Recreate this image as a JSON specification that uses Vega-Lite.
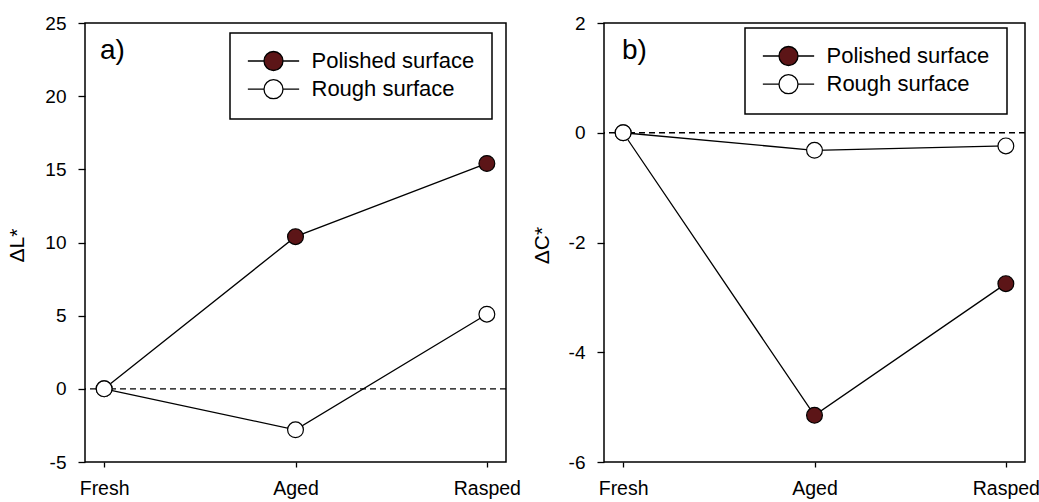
{
  "$schema": "https://vega.github.io/schema/vega-lite/v6.json",
  "background": "white",
  "padding": {"left": 5, "top": 13, "right": 2, "bottom": 0},
  "config": {
    "font": "Liberation Sans",
    "view": {"stroke": "black", "strokeWidth": 1.5},
    "axis": {
      "grid": false,
      "domain": false,
      "tickColor": "black",
      "tickWidth": 1.3,
      "labelColor": "black",
      "labelFont": "Liberation Sans",
      "labelFontSize": 19,
      "titleColor": "black",
      "titleFont": "Liberation Sans",
      "titleFontWeight": "normal"
    },
    "legend": {
      "title": null,
      "orient": "none",
      "labelFont": "Liberation Sans",
      "labelFontSize": 22,
      "labelColor": "black",
      "labelLimit": 400,
      "labelOffset": 27,
      "symbolOffset": 15.5,
      "symbolType": "M-2.7,0H-1M1,0H2.7M-1,0A1,1,0,1,1,1,0A1,1,0,1,1,-1,0Z",
      "symbolSize": 361,
      "symbolStrokeColor": "black",
      "symbolStrokeWidth": 1.3,
      "padding": 17,
      "rowPadding": 2.2,
      "strokeColor": "black",
      "strokeWidth": 1.5,
      "cornerRadius": 0
    }
  },
  "data": {
    "values": [
      {"panel": "a", "surface": "Polished surface", "stage": "Fresh", "value": 0},
      {"panel": "a", "surface": "Polished surface", "stage": "Aged", "value": 10.4},
      {"panel": "a", "surface": "Polished surface", "stage": "Rasped", "value": 15.4},
      {"panel": "a", "surface": "Rough surface", "stage": "Fresh", "value": 0},
      {"panel": "a", "surface": "Rough surface", "stage": "Aged", "value": -2.8},
      {"panel": "a", "surface": "Rough surface", "stage": "Rasped", "value": 5.1},
      {"panel": "b", "surface": "Polished surface", "stage": "Fresh", "value": 0},
      {"panel": "b", "surface": "Polished surface", "stage": "Aged", "value": -5.15},
      {"panel": "b", "surface": "Polished surface", "stage": "Rasped", "value": -2.75},
      {"panel": "b", "surface": "Rough surface", "stage": "Fresh", "value": 0},
      {"panel": "b", "surface": "Rough surface", "stage": "Aged", "value": -0.32},
      {"panel": "b", "surface": "Rough surface", "stage": "Rasped", "value": -0.24}
    ]
  },
  "bounds": "flush",
  "spacing": 98,
  "resolve": {"scale": {"fill": "independent"}, "legend": {"fill": "independent"}},
  "hconcat": [
    {
      "width": 421,
      "height": 439,
      "title": {"text": "a)", "anchor": "start", "frame": "group", "orient": "top", "offset": 0, "dx": 15, "dy": 73, "baseline": "alphabetic", "fontSize": 28, "fontWeight": "normal", "font": "Liberation Sans", "color": "black"},
      "transform": [{"filter": "datum.panel == 'a'"}],
      "layer": [
        {
          "data": {"values": [{"ref": 0}]},
          "mark": {"type": "rule", "color": "black", "strokeWidth": 1.3, "strokeDash": [6, 4]},
          "encoding": {
            "y": {"field": "ref", "type": "quantitative", "scale": {"domain": [-5, 25], "nice": false, "zero": false}, "axis": {"title": "ΔL*", "values": [-5, 0, 5, 10, 15, 20, 25], "labelExpr": "datum.value < 0 ? '-' + abs(datum.value) : '' + datum.value", "tickSize": 7, "labelPadding": 12, "titleFontSize": 21, "titleAngle": -90, "titleX": -62, "titleY": 222, "titleBaseline": "alphabetic", "titleAlign": "center"}}
          }
        },
        {
          "mark": {"type": "line", "color": "black", "strokeWidth": 1.3},
          "encoding": {
            "x": {"field": "stage", "type": "ordinal", "sort": ["Fresh", "Aged", "Rasped"], "scale": {"type": "point", "padding": 0.1}, "axis": {"title": null, "labelAngle": 0, "tickSize": 5, "labelPadding": 12, "labelFontSize": 19.5}},
            "y": {"field": "value", "type": "quantitative", "scale": {"domain": [-5, 25], "nice": false, "zero": false}, "axis": {"title": "ΔL*", "values": [-5, 0, 5, 10, 15, 20, 25], "labelExpr": "datum.value < 0 ? '-' + abs(datum.value) : '' + datum.value", "tickSize": 7, "labelPadding": 12, "titleFontSize": 21, "titleAngle": -90, "titleX": -62, "titleY": 222, "titleBaseline": "alphabetic", "titleAlign": "center"}},
            "detail": {"field": "surface"},
            "order": {"value": null}
          }
        },
        {
          "mark": {"type": "point", "filled": true, "size": 250, "stroke": "black", "strokeWidth": 1.2, "opacity": 1},
          "encoding": {
            "x": {"field": "stage", "type": "ordinal", "sort": ["Fresh", "Aged", "Rasped"]},
            "y": {"field": "value", "type": "quantitative"},
            "fill": {"field": "surface", "type": "nominal", "scale": {"domain": ["Polished surface", "Rough surface"], "range": ["#5c1517", "#ffffff"]}, "legend": {"legendX": 145, "legendY": 10, "encode": {"symbols": {"update": {"stroke": {"value": "black"}, "strokeWidth": {"value": 1.3}, "opacity": {"value": 1}}}}}}
          }
        }
      ]
    },
    {
      "width": 421,
      "height": 439,
      "title": {"text": "b)", "anchor": "start", "frame": "group", "orient": "top", "offset": 0, "dx": 18, "dy": 73, "baseline": "alphabetic", "fontSize": 28, "fontWeight": "normal", "font": "Liberation Sans", "color": "black"},
      "transform": [{"filter": "datum.panel == 'b'"}],
      "layer": [
        {
          "data": {"values": [{"ref": 0}]},
          "mark": {"type": "rule", "color": "black", "strokeWidth": 1.3, "strokeDash": [6, 4]},
          "encoding": {
            "y": {"field": "ref", "type": "quantitative", "scale": {"domain": [-6, 2], "nice": false, "zero": false}, "axis": {"title": "ΔC*", "values": [-6, -4, -2, 0, 2], "labelExpr": "datum.value < 0 ? '-' + abs(datum.value) : '' + datum.value", "tickSize": 7, "labelPadding": 12, "titleFontSize": 21, "titleAngle": -90, "titleX": -56, "titleY": 222, "titleBaseline": "alphabetic", "titleAlign": "center"}}
          }
        },
        {
          "mark": {"type": "line", "color": "black", "strokeWidth": 1.3},
          "encoding": {
            "x": {"field": "stage", "type": "ordinal", "sort": ["Fresh", "Aged", "Rasped"], "scale": {"type": "point", "padding": 0.1}, "axis": {"title": null, "labelAngle": 0, "tickSize": 5, "labelPadding": 12, "labelFontSize": 19.5}},
            "y": {"field": "value", "type": "quantitative", "scale": {"domain": [-6, 2], "nice": false, "zero": false}, "axis": {"title": "ΔC*", "values": [-6, -4, -2, 0, 2], "labelExpr": "datum.value < 0 ? '-' + abs(datum.value) : '' + datum.value", "tickSize": 7, "labelPadding": 12, "titleFontSize": 21, "titleAngle": -90, "titleX": -56, "titleY": 222, "titleBaseline": "alphabetic", "titleAlign": "center"}},
            "detail": {"field": "surface"},
            "order": {"value": null}
          }
        },
        {
          "mark": {"type": "point", "filled": true, "size": 250, "stroke": "black", "strokeWidth": 1.2, "opacity": 1},
          "encoding": {
            "x": {"field": "stage", "type": "ordinal", "sort": ["Fresh", "Aged", "Rasped"]},
            "y": {"field": "value", "type": "quantitative"},
            "fill": {"field": "surface", "type": "nominal", "scale": {"domain": ["Polished surface", "Rough surface"], "range": ["#5c1517", "#ffffff"]}, "legend": {"legendX": 141, "legendY": 5, "encode": {"symbols": {"update": {"stroke": {"value": "black"}, "strokeWidth": {"value": 1.3}, "opacity": {"value": 1}}}}}}
          }
        }
      ]
    }
  ]
}
